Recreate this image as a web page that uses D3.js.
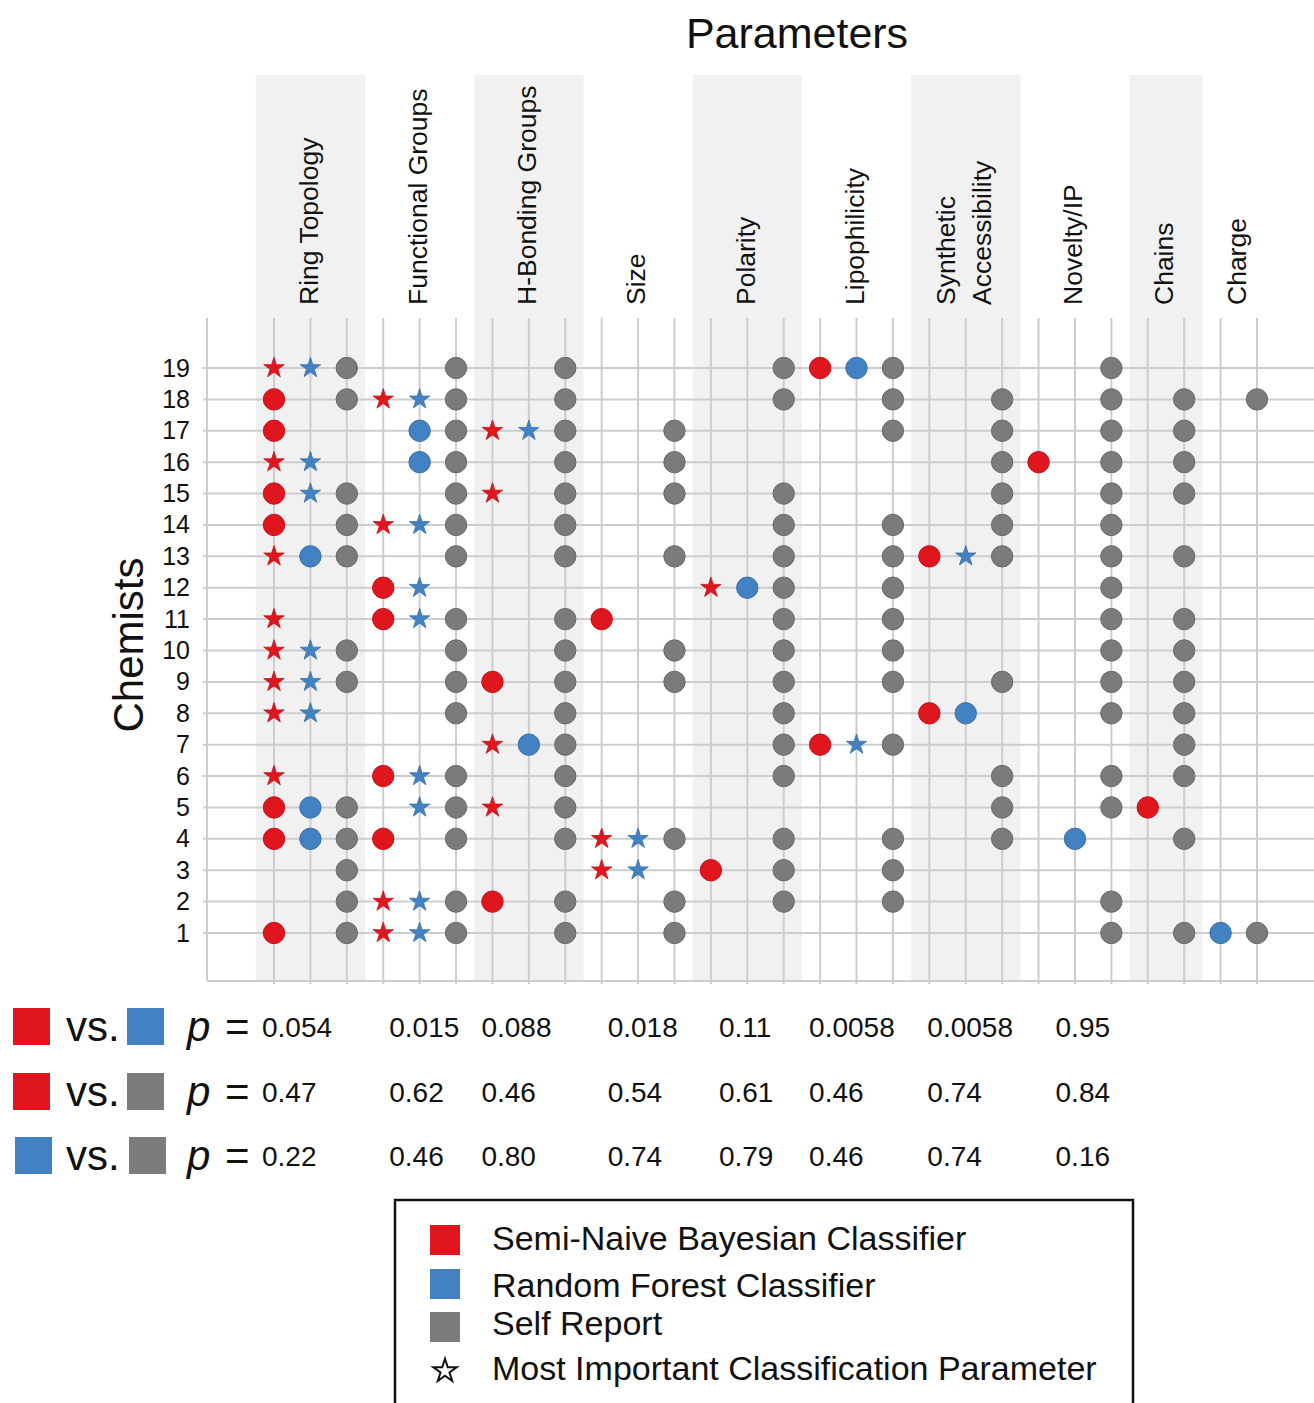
<!DOCTYPE html>
<html>
<head>
<meta charset="utf-8">
<script src="https://cdn.jsdelivr.net/npm/d3@7"></script>
<style>
  html, body { margin: 0; padding: 0; background: #fff; }
  svg { display: block; font-family: "Liberation Sans", Arial, Helvetica, sans-serif; }
</style>
</head>
<body>
<svg id="chart" width="1314" height="1403"></svg>
<script>
// ---------------- DATA ----------------
const chemists = d3.range(1, 20);
const parameters = ["Ring Topology", "Functional Groups", "H-Bonding Groups", "Size", "Polarity",
  "Lipophilicity", "Synthetic Accessibility", "Novelty/IP", "Chains", "Charge"];
const headerLines = [["Ring Topology"], ["Functional Groups"], ["H-Bonding Groups"], ["Size"], ["Polarity"],
  ["Lipophilicity"], ["Synthetic", "Accessibility"], ["Novelty/IP"], ["Chains"], ["Charge"]];
const methodsPerParameter = [
  ["bayes", "forest", "self"], ["bayes", "forest", "self"], ["bayes", "forest", "self"],
  ["bayes", "forest", "self"], ["bayes", "forest", "self"], ["bayes", "forest", "self"],
  ["bayes", "forest", "self"], ["bayes", "forest", "self"], ["bayes", "self"], ["forest", "self"]
];
// chemists per parameter (index follows `parameters`)
const bayesCircles = [[18,17,15,14,5,4,1],[12,11,6,4],[9,2],[11],[3],[19,7],[13,8],[16],[5],[]];
const bayesStars   = [[19,16,13,11,10,9,8,6],[18,14,2,1],[17,15,7,5],[4,3],[12],[],[],[],[],[]];
const forestCircles= [[13,5,4],[17,16],[7],[],[12],[19],[8],[4],[],[1]];
const forestStars  = [[19,16,15,10,9,8],[18,14,12,11,6,5,2,1],[17],[4,3],[],[7],[13],[],[],[]];
const selfReport   = [
  [19,18,15,14,13,10,9,5,4,3,2,1],
  [19,18,17,16,15,14,13,11,10,9,8,6,5,4,2,1],
  [19,18,17,16,15,14,13,11,10,9,8,7,6,5,4,2,1],
  [17,16,15,13,10,9,4,2,1],
  [19,18,15,14,13,12,11,10,9,8,7,6,4,3,2],
  [19,18,17,14,13,12,11,10,9,7,4,3,2],
  [18,17,16,15,14,13,9,6,5,4],
  [19,18,17,16,15,14,13,12,11,10,9,8,6,5,2,1],
  [18,17,16,15,13,11,10,9,8,7,6,4,1],
  [18,1]
];
const comparisons = [["bayes", "forest"], ["bayes", "self"], ["forest", "self"]];
const pBayesForest = ["0.054","0.015","0.088","0.018","0.11","0.0058","0.0058","0.95"];
const pBayesSelf   = ["0.47","0.62","0.46","0.54","0.61","0.46","0.74","0.84"];
const pForestSelf  = ["0.22","0.46","0.80","0.74","0.79","0.46","0.74","0.16"];
const legendLabels = ["Semi-Naive Bayesian Classifier", "Random Forest Classifier", "Self Report", "Most Important Classification Parameter"];

// ---------------- STYLE / LAYOUT ----------------
const color = { bayes: "#e0161f", forest: "#4382c2", self: "#7b7b7b" };
const rim = { bayes: "#c5121a", forest: "#3a70a8", self: "#6a6a6a" };
const pNudge = [-12, 6, -11, 6, 8, -11, -2, 17];

const svg = d3.select("#chart");

const colIds = parameters.flatMap((p, i) => methodsPerParameter[i].map(m => p + "|" + m));
const x = d3.scalePoint().domain(colIds).range([274, 1257]);
const step = x.step();
const y = d3.scalePoint().domain(chemists).range([933, 368]);

const plotTop = 318, plotBottom = 981, bandTop = 75, plotLeft = 207;

// bands
const bandG = svg.append("g");
parameters.forEach((p, i) => {
  if (i % 2 !== 0) return;
  const cols = methodsPerParameter[i].map(m => x(p + "|" + m));
  bandG.append("rect")
    .attr("x", d3.min(cols) - step / 2)
    .attr("y", bandTop)
    .attr("width", d3.max(cols) - d3.min(cols) + step)
    .attr("height", plotBottom - bandTop)
    .attr("fill", "#f1f1f1");
});

// gridlines
const grid = svg.append("g").attr("stroke", "#cdcdcd").attr("stroke-width", 2);
grid.selectAll("line.v").data(colIds).join("line")
  .attr("x1", d => x(d)).attr("x2", d => x(d))
  .attr("y1", plotTop).attr("y2", plotBottom + 3);
grid.selectAll("line.h").data(chemists).join("line")
  .attr("x1", 203).attr("x2", 1314)
  .attr("y1", d => y(d)).attr("y2", d => y(d));
grid.append("line").attr("x1", plotLeft).attr("x2", plotLeft).attr("y1", plotTop).attr("y2", plotBottom);
grid.append("line").attr("x1", plotLeft).attr("x2", 1314).attr("y1", plotBottom).attr("y2", plotBottom);

// y axis
const yAxis = svg.append("g").attr("transform", "translate(203,0)")
  .call(d3.axisLeft(y).tickSize(0).tickPadding(13));
yAxis.select(".domain").remove();
yAxis.selectAll("text").attr("font-size", 25).attr("fill", "#111").attr("font-family", "Liberation Sans, Arial, sans-serif");

// titles
svg.append("text").attr("x", 797).attr("y", 48).attr("text-anchor", "middle")
  .attr("font-size", 43).attr("fill", "#111").text("Parameters");
svg.append("text").attr("transform", "translate(128,645) rotate(-90)")
  .attr("text-anchor", "middle").attr("dy", "0.36em")
  .attr("font-size", 42).attr("fill", "#111").text("Chemists");

// column headers
parameters.forEach((p, i) => {
  const cols = methodsPerParameter[i].map(m => x(p + "|" + m));
  const cx = (d3.min(cols) + d3.max(cols)) / 2 - 2;
  const lines = headerLines[i];
  const t = svg.append("text")
    .attr("transform", `translate(${cx},305) rotate(-90)`)
    .attr("font-size", 26.5).attr("fill", "#111");
  lines.forEach((ln, k) => {
    const off = (k - (lines.length - 1) / 2) * 36;
    t.append("tspan").attr("x", 0).attr("y", off).attr("dy", "0.35em").text(ln);
  });
});

// marks
const marks = [];
parameters.forEach((p, i) => {
  bayesCircles[i].forEach(c => marks.push({ col: p + "|bayes", c, m: "bayes", s: "circle" }));
  bayesStars[i].forEach(c => marks.push({ col: p + "|bayes", c, m: "bayes", s: "star" }));
  forestCircles[i].forEach(c => marks.push({ col: p + "|forest", c, m: "forest", s: "circle" }));
  forestStars[i].forEach(c => marks.push({ col: p + "|forest", c, m: "forest", s: "star" }));
  selfReport[i].forEach(c => marks.push({ col: p + "|self", c, m: "self", s: "circle" }));
});
const markG = svg.append("g");
markG.selectAll("circle").data(marks.filter(d => d.s === "circle")).join("circle")
  .attr("cx", d => x(d.col)).attr("cy", d => y(d.c)).attr("r", 10.7)
  .attr("fill", d => color[d.m]).attr("stroke", d => rim[d.m]).attr("stroke-width", 1);
const starPath = d3.symbol(d3.symbolStar, 130)();
markG.selectAll("path").data(marks.filter(d => d.s === "star")).join("path")
  .attr("d", starPath)
  .attr("transform", d => `translate(${x(d.col)},${y(d.c)})`)
  .attr("fill", d => color[d.m]).attr("stroke", d => rim[d.m]).attr("stroke-width", 0.8);

// p-value table
const pRows = [pBayesForest, pBayesSelf, pForestSelf];
const rowY = [1027, 1092, 1156];
pRows.forEach((vals, r) => {
  const yc = rowY[r];
  const g = svg.append("g");
  const [a, b] = comparisons[r];
  const sqX0 = a === "forest" ? 15 : 13;
  g.append("rect").attr("x", sqX0).attr("y", yc - 19).attr("width", 37).attr("height", 37).attr("fill", color[a]);
  g.append("rect").attr("x", sqX0 + 114).attr("y", yc - 19).attr("width", 37).attr("height", 37).attr("fill", color[b]);
  g.append("text").attr("x", 66).attr("y", yc + 14).attr("font-size", 42).attr("fill", "#111").text("vs.");
  g.append("text").attr("x", 187).attr("y", yc + 14).attr("font-size", 42).attr("font-style", "italic").attr("fill", "#111").text("p");
  g.append("text").attr("x", 225).attr("y", yc + 14).attr("font-size", 42).attr("fill", "#111").text("=");
  vals.forEach((v, i) => {
    g.append("text")
      .attr("x", x(parameters[i] + "|bayes") + pNudge[i])
      .attr("y", yc + 10).attr("font-size", 28).attr("fill", "#111").text(v);
  });
});

// legend
const lg = svg.append("g");
lg.append("rect").attr("x", 395).attr("y", 1200).attr("width", 738).attr("height", 215)
  .attr("fill", "#fff").attr("stroke", "#111").attr("stroke-width", 2.5);
const legendKeys = ["bayes", "forest", "self"];
const legendSqY = [1225, 1269, 1312];
const legendTextY = [1250, 1297, 1335, 1380];
legendKeys.forEach((k, i) => {
  lg.append("rect").attr("x", 430).attr("y", legendSqY[i]).attr("width", 30).attr("height", 30).attr("fill", color[k]);
});
lg.append("path").attr("d", d3.symbol(d3.symbolStar, 170)())
  .attr("transform", "translate(445,1371)")
  .attr("fill", "#fff").attr("stroke", "#111").attr("stroke-width", 2);
legendLabels.forEach((t, i) => {
  lg.append("text").attr("x", 492).attr("y", legendTextY[i]).attr("font-size", 34).attr("fill", "#111").text(t);
});
</script>
</body>
</html>
